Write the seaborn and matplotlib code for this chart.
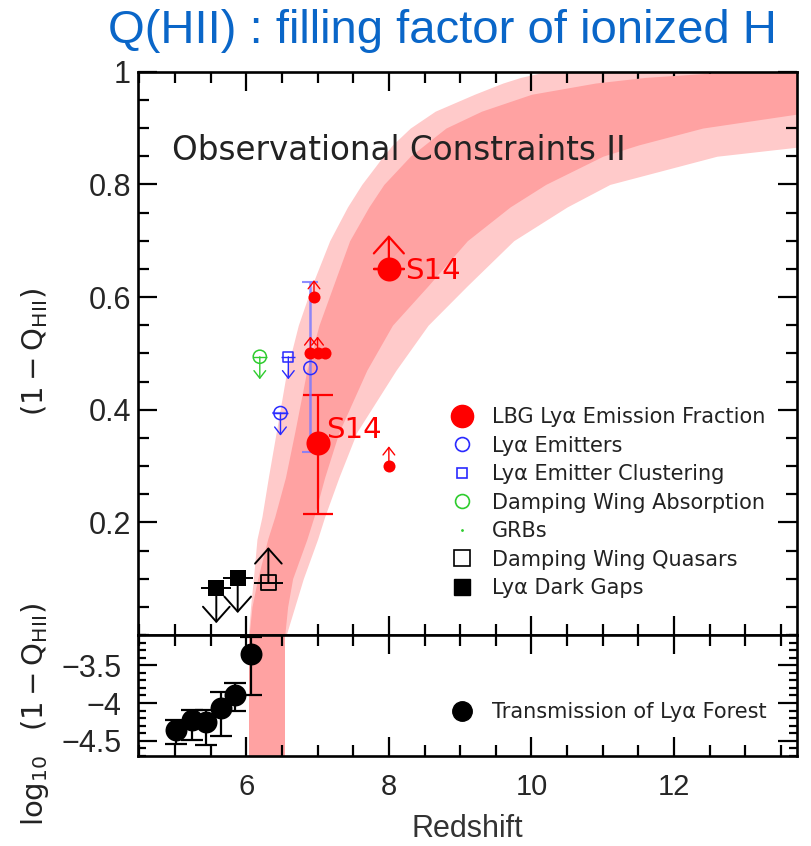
import numpy as np
import pandas as pd
import seaborn as sns
import matplotlib
matplotlib.use("Agg")
import matplotlib.pyplot as plt
from matplotlib.lines import Line2D
from matplotlib.ticker import MultipleLocator, FixedLocator

# ---------------- data ----------------
# model band (1-Q_HII) vs redshift: edges given as redshift at each level
band_y = [0.0, 0.05, 0.1, 0.17, 0.21, 0.28, 0.36, 0.47, 0.55, 0.62, 0.7, 0.76, 0.8,
          0.85, 0.87, 0.9, 0.93, 0.96, 0.98, 0.99, 1.0]
light_left = [6.03, 6.06, 6.1, 6.15, 6.22, 6.31, 6.42, 6.57, 6.73, 6.92, 7.17, 7.42, 7.62,
              7.92, 8.05, 8.3, 8.65, 9.2, 9.6, 9.85, 10.2]
dark_left = [6.04, 6.08, 6.16, 6.3, 6.4, 6.55, 6.68, 6.85, 7.02, 7.22, 7.45, 7.72, 7.93,
             8.3, 8.5, 8.8, 9.3, 10.0, 10.9, 11.6, 12.8]
dark_right = [6.54, 6.58, 6.65, 6.85, 6.95, 7.1, 7.3, 7.69, 8.05, 8.55, 9.1, 9.7, 10.2,
              11.0, 11.5, 12.4, 14.0, 14.0, 14.0, 14.0, 14.0]
light_right = [6.56, 6.68, 6.8, 7.0, 7.1, 7.3, 7.55, 8.1, 8.55, 9.1, 9.75, 10.5, 11.1,
               12.6, 14.0, 14.0, 14.0, 14.0, 14.0, 14.0, 14.0]

# lower panel band (log10(1-Q))
low_band_y = [-4.7, -3.1]
low_band_left = [6.04, 6.04]
low_band_right = [6.54, 6.54]

# LBG Lya emission fraction (large = S14)
s14_z = [7.0, 8.0]
s14_y = [0.34, 0.65]
s14_err_lo = [0.125, 0.0]
s14_err_hi = [0.086, 0.0]
s14_xerr = [0.0, 0.22]
s14_arrow = [0.0, 0.06]

lbg_z = [6.95, 6.9, 7.0, 7.1, 8.0]
lbg_y = [0.6, 0.5, 0.5, 0.5, 0.3]
lbg_arrow = [0.03, 0.03, 0.03, 0.0, 0.035]

# Lya emitters (open blue circles)
lae_z = [6.9, 6.48]
lae_y = [0.474, 0.394]
lae_err_lo = [0.149, 0.0]
lae_err_hi = [0.152, 0.0]
lae_arrow = [0.0, -0.04]

# Lya emitter clustering (open blue square)
laec_z = [6.59]
laec_y = [0.494]
laec_arrow = [-0.04]

# Damping wing absorption (open green circle)
dwa_z = [6.19]
dwa_y = [0.494]
dwa_arrow = [-0.04]

# Damping wing quasars (open black square)
dwq_z = [6.31]
dwq_y = [0.093]
dwq_arrow = [0.063]

# Lya dark gaps (filled black squares)
gap_z = [5.58, 5.88]
gap_y = [0.083, 0.102]
gap_arrow = [-0.062, -0.063]

# Transmission of Lya forest (lower panel)
tr_z = [5.02, 5.24, 5.44, 5.65, 5.84, 6.07]
tr_y = [-4.35, -4.23, -4.25, -4.06, -3.90, -3.35]
tr_err_hi = [0.13, 0.14, 0.16, 0.20, 0.16, 0.22]
tr_err_lo = [0.19, 0.255, 0.31, 0.37, 0.20, 0.55]

y_ticks_top = [0.2, 0.4, 0.6, 0.8, 1.0]
y_ticklabels_top = ["0.2", "0.4", "0.6", "0.8", "1"]
y_ticks_bot = [-3.5, -4.0, -4.5]
y_ticklabels_bot = ["\u22123.5", "\u22124", "\u22124.5"]
x_ticks = [6, 8, 10, 12]

# ---------------- style ----------------
sns.set_theme(style="ticks")
plt.rcParams["font.family"] = ["DejaVu Sans"]
plt.rcParams["mathtext.fontset"] = "dejavusans"

RED = "#ff0000"
BLUE = "#2a2aff"
GREEN = "#2ecc2e"
DARK = "#ffa2a2"
LIGHT = "#ffcaca"
TICKFONT = ["Liberation Sans", "DejaVu Sans"]

fig = plt.figure(figsize=(8.11, 8.46), dpi=100)
ax = fig.add_axes([0.170, 0.2494, 0.8124, 0.6658])
ax2 = fig.add_axes([0.170, 0.1064, 0.8124, 0.1430])

# bands
ax.fill_betweenx(band_y, light_left, light_right, color=LIGHT, lw=0, zorder=0)
ax.fill_betweenx(band_y, dark_left, dark_right, color=DARK, lw=0, zorder=1)
ax2.fill_betweenx(low_band_y, low_band_left, low_band_right, color=DARK, lw=0, zorder=0)


def arrows(axis, zs, ys, lens, color, lw=1.4, hw=0.45, hl=0.7):
    for z, y, L in zip(zs, ys, lens):
        if L == 0:
            continue
        axis.annotate("", xy=(z, y + L), xytext=(z, y),
                      arrowprops=dict(arrowstyle=f"->,head_length={hl},head_width={hw}",
                                      color=color, lw=lw, shrinkA=0, shrinkB=0),
                      zorder=4)


# ---- LBG S14 big points
ax.errorbar(s14_z, s14_y, yerr=[s14_err_lo, s14_err_hi],
            fmt="none", ecolor=RED, elinewidth=1.6, capsize=11, capthick=1.6, zorder=3)
ax.errorbar(s14_z, s14_y, xerr=s14_xerr, fmt="none", ecolor=RED, elinewidth=1.6, zorder=3)
arrows(ax, s14_z, s14_y, s14_arrow, RED, lw=1.6, hw=0.9, hl=1.0)
sns.scatterplot(x=s14_z, y=s14_y, ax=ax, color=RED, s=300, edgecolor=RED, linewidth=0, zorder=5, legend=False)

# ---- LBG small points
arrows(ax, lbg_z, lbg_y, lbg_arrow, RED, lw=1.0, hw=0.35, hl=0.45)
sns.scatterplot(x=lbg_z, y=lbg_y, ax=ax, color=RED, s=75, edgecolor=RED, linewidth=0, zorder=5, legend=False)

# ---- Lya emitters
ax.errorbar(lae_z, lae_y, yerr=[lae_err_lo, lae_err_hi], fmt="none",
            ecolor="#7a7aff", elinewidth=1.8, capsize=6, capthick=1.5, alpha=0.85, zorder=3)
ax.errorbar([lae_z[1]], [lae_y[1]], xerr=[0.1], fmt="none", ecolor=BLUE, elinewidth=1.0, zorder=3)
arrows(ax, lae_z, lae_y, lae_arrow, BLUE, lw=1.0, hw=0.35, hl=0.45)
sns.scatterplot(x=lae_z, y=lae_y, ax=ax, marker="o", s=90, facecolor="none",
                edgecolor=BLUE, linewidth=1.1, zorder=5, legend=False)

# ---- Lya emitter clustering
ax.errorbar(laec_z, laec_y, xerr=[0.1], fmt="none", ecolor=BLUE, elinewidth=1.0, zorder=3)
arrows(ax, laec_z, laec_y, laec_arrow, BLUE, lw=1.0, hw=0.35, hl=0.45)
sns.scatterplot(x=laec_z, y=laec_y, ax=ax, marker="s", s=55, facecolor="none",
                edgecolor=BLUE, linewidth=1.1, zorder=5, legend=False)

# ---- Damping wing absorption
ax.errorbar(dwa_z, dwa_y, xerr=[0.1], fmt="none", ecolor=GREEN, elinewidth=1.0, zorder=3)
arrows(ax, dwa_z, dwa_y, dwa_arrow, GREEN, lw=1.0, hw=0.35, hl=0.45)
sns.scatterplot(x=dwa_z, y=dwa_y, ax=ax, marker="o", s=90, facecolor="none",
                edgecolor=GREEN, linewidth=1.1, zorder=5, legend=False)

# ---- Damping wing quasars
ax.errorbar(dwq_z, dwq_y, xerr=[0.2], fmt="none", ecolor="black", elinewidth=1.4, zorder=3)
arrows(ax, dwq_z, dwq_y, dwq_arrow, "black", lw=1.4, hw=0.8, hl=0.9)
sns.scatterplot(x=dwq_z, y=dwq_y, ax=ax, marker="s", s=110, facecolor="none",
                edgecolor="black", linewidth=1.3, zorder=5, legend=False)

# ---- Dark gaps
ax.errorbar(gap_z, gap_y, xerr=[0.21, 0.21], fmt="none", ecolor="black", elinewidth=1.4, zorder=3)
arrows(ax, gap_z, gap_y, gap_arrow, "black", lw=1.4, hw=0.8, hl=0.9)
sns.scatterplot(x=gap_z, y=gap_y, ax=ax, marker="s", s=130, color="black",
                edgecolor="black", linewidth=0, zorder=5, legend=False)

# ---- Lower panel: transmission
ax2.errorbar(tr_z, tr_y, yerr=[tr_err_lo, tr_err_hi], fmt="none", ecolor="black",
             elinewidth=1.6, capsize=8, capthick=1.6, zorder=3)
sns.scatterplot(x=tr_z, y=tr_y, ax=ax2, color="black", s=250, edgecolor="black",
                linewidth=0, zorder=5, legend=False)

# ---------------- axes ----------------
for a in (ax, ax2):
    a.set_xlim(4.48, 13.72)
    a.xaxis.set_major_locator(FixedLocator(x_ticks))
    a.xaxis.set_minor_locator(MultipleLocator(0.5))
    a.tick_params(which="both", direction="in", top=True, right=True, color="black")
    a.tick_params(which="major", length=14, width=1.6)
    a.tick_params(which="minor", length=8, width=1.6)
    for sp in a.spines.values():
        sp.set_linewidth(1.9)
        sp.set_color("black")
    a.set_facecolor("white")

ax.set_ylim(0, 1)
ax.yaxis.set_major_locator(FixedLocator(y_ticks_top))
ax.set_yticklabels(y_ticklabels_top, family=TICKFONT, fontsize=22)
ax.yaxis.set_minor_locator(MultipleLocator(0.05))
ax.tick_params(axis="y", which="major", pad=5)
ax.tick_params(axis="x", which="both", labelbottom=False)

ax2.set_ylim(-4.7, -3.1)
ax2.yaxis.set_major_locator(FixedLocator(y_ticks_bot))
ax2.set_yticklabels(y_ticklabels_bot, family=TICKFONT, fontsize=22)
ax2.yaxis.set_minor_locator(MultipleLocator(0.1))
ax2.tick_params(axis="y", which="minor", length=6)
ax2.tick_params(axis="y", which="major", pad=12)
ax2.set_xticklabels([str(t) for t in x_ticks], family=TICKFONT, fontsize=21)
ax2.tick_params(axis="x", which="major", pad=12)

fig.text(0.576, 0.02, "Redshift", family=TICKFONT, fontsize=22, ha="center", va="center",
         color="#333333")

# labels/text
ax.text(0.052, 0.861, "Observational Constraints II", transform=ax.transAxes,
        fontsize=23.5, va="center", ha="left", color="#222222")
ax.text(8.23, 0.646, "S14", color=RED, fontsize=21, va="center", ha="left", zorder=6)
ax.text(7.12, 0.364, "S14", color=RED, fontsize=21, va="center", ha="left", zorder=6)

fig.text(0.043, 0.584, r"$(1-\mathrm{Q}_{\rm HII})$", rotation=90, ha="center", va="center",
         fontsize=21, color="#222222")
fig.text(0.043, 0.155, r"$\log_{10}\ \ (1-\mathrm{Q}_{\rm HII})$", rotation=90, ha="center",
         va="center", fontsize=21, color="#222222")

fig.text(0.133, 0.963, "Q(HII) : filling factor of ionized H",
         family=["Liberation Sans Narrow", "Liberation Sans", "DejaVu Sans"],
         fontsize=34, color="#0a66c8", ha="left", va="center")

# legends
handles = [
    Line2D([], [], ls="none", marker="o", color=RED, markersize=16),
    Line2D([], [], ls="none", marker="o", mfc="none", mec=BLUE, markersize=10, mew=1.2),
    Line2D([], [], ls="none", marker="s", mfc="none", mec=BLUE, markersize=7.5, mew=1.2),
    Line2D([], [], ls="none", marker="o", mfc="none", mec=GREEN, markersize=10, mew=1.2),
    Line2D([], [], ls="none", marker=".", color=GREEN, markersize=2),
    Line2D([], [], ls="none", marker="s", mfc="none", mec="black", markersize=11, mew=1.2),
    Line2D([], [], ls="none", marker="s", color="black", markersize=11),
]
labels = ["LBG Ly\u03b1 Emission Fraction", "Ly\u03b1 Emitters", "Ly\u03b1 Emitter Clustering",
          "Damping Wing Absorption", "GRBs", "Damping Wing Quasars", "Ly\u03b1 Dark Gaps"]
leg = ax.legend(handles, labels, loc="center left", bbox_to_anchor=(0.464, 0.235),
                frameon=False, fontsize=15, labelspacing=0.41, handlelength=1.0,
                handletextpad=0.94, borderaxespad=0)
for t in leg.get_texts():
    t.set_color("#222222")

leg2 = ax2.legend([Line2D([], [], ls="none", marker="o", color="black", markersize=14)],
                  ["Transmission of Ly\u03b1 Forest"], loc="center left",
                  bbox_to_anchor=(0.464, 0.364), frameon=False, fontsize=15,
                  handlelength=1.0, handletextpad=0.94, borderaxespad=0)
for t in leg2.get_texts():
    t.set_color("#222222")

fig.savefig("out.png", dpi=100, facecolor="white")
